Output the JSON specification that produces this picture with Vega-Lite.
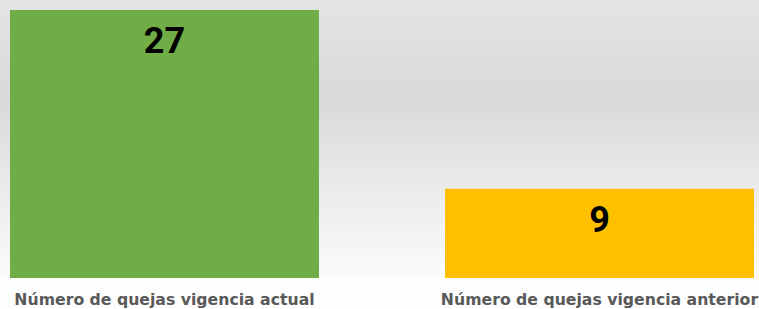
{
  "$schema": "https://vega.github.io/schema/vega-lite/v6.json",
  "width": 759,
  "height": 278,
  "autosize": {"type": "none"},
  "padding": {"top": 0, "left": 0, "right": 0, "bottom": 31},
  "background": "#fdfdfd",
  "config": {
    "view": {
      "stroke": null,
      "fill": {
        "gradient": "linear",
        "x1": 0, "y1": 0, "x2": 0, "y2": 1,
        "stops": [
          {"offset": 0, "color": "#e4e4e4"},
          {"offset": 0.36, "color": "#d9d9d9"},
          {"offset": 0.7, "color": "#ececec"},
          {"offset": 1, "color": "#fbfbfb"}
        ]
      }
    }
  },
  "data": {
    "values": [
      {"categoria": "Número de quejas vigencia actual", "valor": 27},
      {"categoria": "Número de quejas vigencia anterior", "valor": 9}
    ]
  },
  "encoding": {
    "x": {
      "field": "categoria",
      "type": "nominal",
      "scale": {"range": [0, 764], "paddingInner": 0.2897, "paddingOuter": 0.023},
      "axis": {
        "title": null,
        "domain": false,
        "ticks": false,
        "labelAngle": 0,
        "labelFont": "DejaVu Sans",
        "labelFontWeight": "bold",
        "labelFontSize": 15.7,
        "labelColor": "#595959",
        "labelPadding": 14,
        "labelLimit": 400
      }
    },
    "y": {
      "field": "valor",
      "type": "quantitative",
      "scale": {"domain": [0, 28.01], "nice": false},
      "axis": null
    }
  },
  "layer": [
    {
      "mark": {"type": "bar"},
      "encoding": {
        "color": {
          "field": "categoria",
          "type": "nominal",
          "scale": {"range": ["#70ad47", "#ffc000"]},
          "legend": null
        }
      }
    },
    {
      "mark": {
        "type": "text",
        "baseline": "top",
        "dy": 15,
        "font": "Roboto",
        "fontWeight": "bold",
        "fontSize": 36,
        "color": "#000000"
      },
      "encoding": {
        "text": {"field": "valor", "type": "quantitative"}
      }
    }
  ]
}
